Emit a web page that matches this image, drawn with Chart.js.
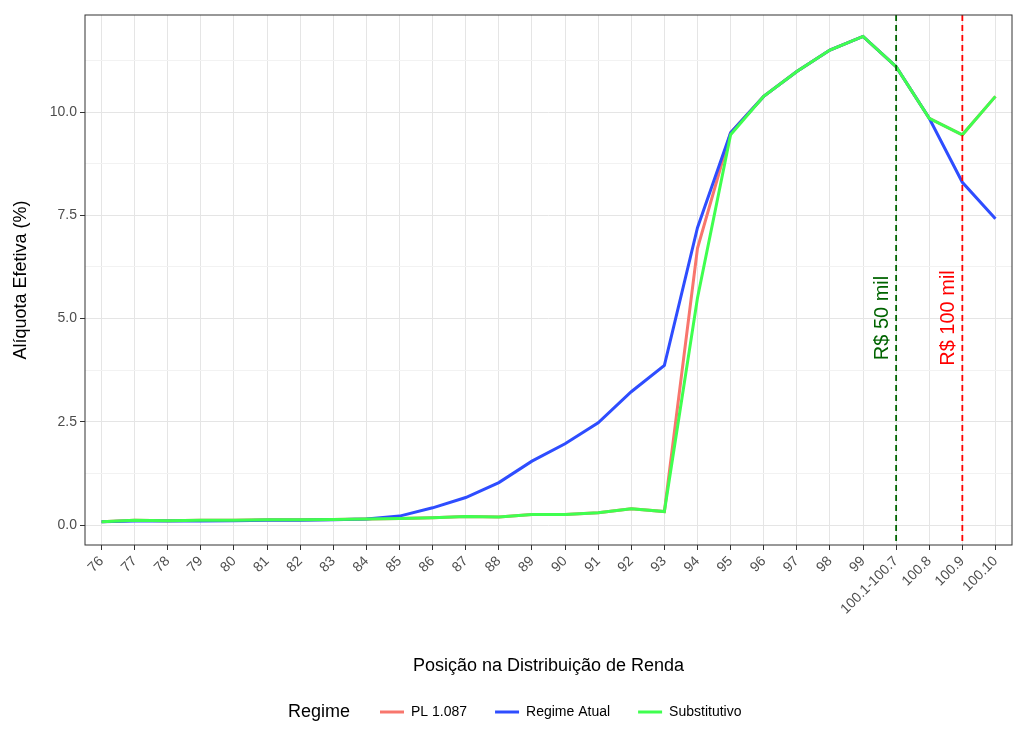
<!DOCTYPE html>
<html><head><meta charset="utf-8">
<script src="https://cdn.jsdelivr.net/npm/chart.js@4"></script>
<style>html,body{margin:0;padding:0;background:#fff}#w{width:1024px;height:751px}</style>
</head><body><div id="w"><canvas id="c"></canvas></div>
<script>
const categories=['76','77','78','79','80','81','82','83','84','85','86','87','88','89','90','91','92','93','94','95','96','97','98','99','100.1-100.7','100.8','100.9','100.10'];
const regimeAtual=[0.08,0.1,0.1,0.1,0.11,0.12,0.12,0.13,0.15,0.22,0.42,0.67,1.03,1.55,1.97,2.48,3.23,3.87,7.2,9.5,10.38,10.98,11.5,11.83,11.1,9.85,8.3,7.42];
const substitutivo=[0.08,0.12,0.11,0.12,0.12,0.13,0.13,0.14,0.15,0.16,0.18,0.21,0.2,0.26,0.26,0.3,0.4,0.33,5.5,9.45,10.38,10.98,11.5,11.83,11.1,9.85,9.45,10.38];
const pl1087=[0.08,0.12,0.11,0.12,0.12,0.13,0.13,0.14,0.15,0.16,0.18,0.21,0.2,0.26,0.26,0.3,0.4,0.33,6.7,9.5,10.38,10.98,11.5,11.83,11.1,9.85,9.45,10.38];
const vlines=[{cat:'100.1-100.7',color:'#006400',label:'R$ 50 mil'},{cat:'100.9',color:'#ff0000',label:'R$ 100 mil'}];
const series=[{label:'PL 1.087',data:pl1087,color:'#f8766d',order:2},{label:'Regime Atual',data:regimeAtual,color:'#2e4dff',order:1},{label:'Substitutivo',data:substitutivo,color:'#3fff4f',order:0}];
const F='"Liberation Sans", Arial, sans-serif';
const extras={id:'extras',afterDatasetsDraw(ch){
  const c=ch.ctx,a=ch.chartArea,x=ch.scales.x;
  vlines.forEach(v=>{const px=x.getPixelForValue(categories.indexOf(v.cat));
    c.save();c.strokeStyle=v.color;c.lineWidth=1.8;c.setLineDash([6,4]);
    c.beginPath();c.moveTo(px,a.top);c.lineTo(px,a.bottom);c.stroke();
    c.translate(px-4,318);c.rotate(-Math.PI/2);c.fillStyle=v.color;c.font='20px '+F;
    c.textAlign='center';c.textBaseline='bottom';c.fillText(v.label,0,0);c.restore();});
  c.save();c.strokeStyle='#333';c.lineWidth=1;c.strokeRect(a.left,a.top,a.right-a.left,a.bottom-a.top);c.restore();
},afterDraw(ch){
  const c=ch.ctx;c.save();c.font='18px '+F;c.fillStyle='#000';c.textBaseline='middle';
  c.fillText('Regime',288,712);let xx=380;c.font='14px '+F;
  series.forEach(s=>{c.strokeStyle=s.color;c.lineWidth=3;c.beginPath();c.moveTo(xx,712);c.lineTo(xx+24,712);c.stroke();
    c.fillStyle='#000';c.fillText(s.label,xx+31,712);xx+=31+c.measureText(s.label).width+28;});
  c.restore();}};
new Chart(document.getElementById('c'),{type:'line',
 data:{labels:categories,datasets:series.map(s=>({label:s.label,data:s.data,order:s.order,borderColor:s.color,backgroundColor:s.color,borderWidth:3,pointRadius:0,tension:0}))},
 options:{responsive:true,maintainAspectRatio:false,animation:false,
  layout:{padding:{left:6,right:12,top:15,bottom:70}},
  plugins:{legend:{display:false},tooltip:{enabled:false}},
  scales:{
   x:{offset:true,grid:{offset:false,color:'#e5e5e5',tickColor:'#333',tickLength:5},border:{display:false},
      ticks:{color:'#4d4d4d',font:{size:14,family:F},maxRotation:45,minRotation:45,autoSkip:false},
      title:{display:true,text:'Posição na Distribuição de Renda',color:'#000',font:{size:18,family:F},padding:{top:14}},
      afterFit(s){s.height=136;}},
   y:{min:-0.48,max:12.35,afterBuildTicks(s){s.ticks=[];for(let v=0;v<=11.25;v+=1.25)s.ticks.push({value:v});},
      grid:{color:ctx=>(ctx.tick&&Math.round(ctx.tick.value/1.25)%2===1)?'#f2f2f2':'#e5e5e5',tickColor:ctx=>(ctx.tick&&Math.round(ctx.tick.value/1.25)%2===1)?'rgba(0,0,0,0)':'#333',tickLength:5},border:{display:false},
      ticks:{color:'#4d4d4d',font:{size:14,family:F},callback:(v)=>Math.round(v/1.25)%2===0?v.toFixed(1):''},
      title:{display:true,text:'Alíquota Efetiva (%)',color:'#000',font:{size:18,family:F}},
      afterFit(s){s.width=79;}}
  }},plugins:[extras]});
</script></body></html>
